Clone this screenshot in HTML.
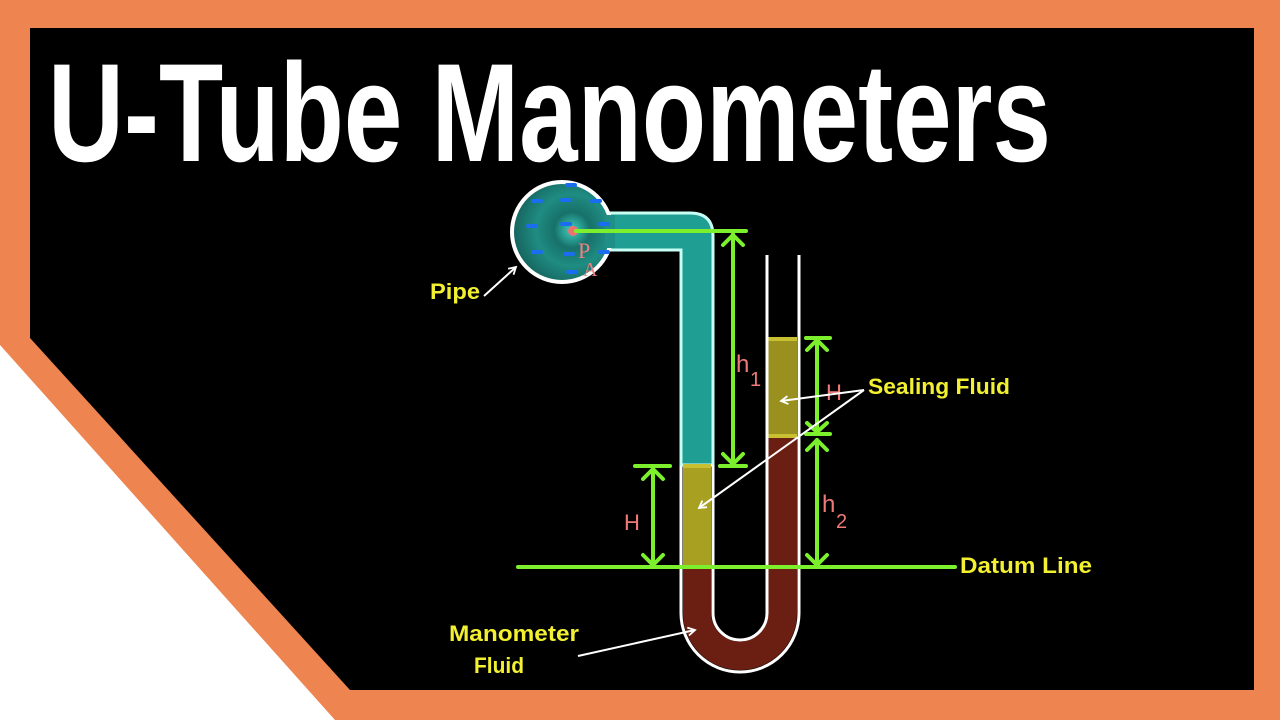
<!DOCTYPE html>
<html><head><meta charset="utf-8"><style>
html,body{margin:0;padding:0;background:#ee8550;width:1280px;height:720px;overflow:hidden}
svg{display:block}
</style></head><body>
<svg width="1280" height="720" viewBox="0 0 1280 720" xmlns="http://www.w3.org/2000/svg">
<defs>
<radialGradient id="pg" cx="0.6" cy="0.48" r="0.6"><stop offset="0" stop-color="#3fd0c0"/><stop offset="0.3" stop-color="#17716a"/><stop offset="0.6" stop-color="#1f8c82"/><stop offset="1" stop-color="#15625c"/></radialGradient>
<marker id="ah" markerWidth="10" markerHeight="10" refX="8" refY="5" orient="auto" markerUnits="userSpaceOnUse"><path d="M1,1 L8,5 L1,9" fill="none" stroke="#fff" stroke-width="1.8"/></marker>
</defs>
<rect width="1280" height="720" fill="#ee8550"/>
<polygon points="0,345 0,720 335,720" fill="#ffffff"/>
<polygon points="30,28 1254,28 1254,690 350,690 30,338" fill="#000"/>
<text x="48" y="161" fill="#fff" font-family="Liberation Sans Narrow, Liberation Sans, sans-serif" font-weight="bold" font-size="140" textLength="1003" lengthAdjust="spacingAndGlyphs">U-Tube Manometers</text>

<path d="M600,213 H690 Q713,213 713,236 V465 H681 V250 H600 Z" fill="#1f9e94" stroke="#c8fff5" stroke-width="3"/>
<rect x="683" y="465" width="28" height="102" fill="#a8a020"/>
<line x1="683" y1="466" x2="711" y2="466" stroke="#c8c030" stroke-width="4"/>
<line x1="683" y1="567" x2="711" y2="567" stroke="#c8c030" stroke-width="4"/>
<path d="M683,567 V613 A57,57 0 0 0 797,613 V437 H768 V613 A28,28 0 0 1 711,613 V567 Z" fill="#6a1f12"/>
<rect x="768" y="338" width="29" height="99" fill="#9a9020"/>
<line x1="768" y1="339" x2="797" y2="339" stroke="#c8c030" stroke-width="4"/>
<line x1="768" y1="436" x2="797" y2="436" stroke="#c8c030" stroke-width="4"/>
<path d="M681,465 V613 A59,59 0 0 0 799,613 V255" fill="none" stroke="#fff" stroke-width="3"/>
<path d="M713,465 V613 A27,27 0 0 0 767,613 V255" fill="none" stroke="#fff" stroke-width="3"/>
<line x1="681" y1="250" x2="681" y2="466" stroke="#c8fff5" stroke-width="3"/>
<circle cx="562" cy="232" r="50" fill="url(#pg)" stroke="#fff" stroke-width="4"/>
<rect x="605" y="215" width="10" height="33" fill="#1f9088"/>
<g fill="#1a6cf0">
<rect x="565" y="183" width="12" height="4" rx="2"/><rect x="531" y="199" width="12" height="4" rx="2"/><rect x="560" y="198" width="12" height="4" rx="2"/><rect x="590" y="199" width="12" height="4" rx="2"/>
<rect x="526" y="224" width="12" height="4" rx="2"/><rect x="560" y="222" width="12" height="4" rx="2"/><rect x="598" y="222" width="12" height="4" rx="2"/>
<rect x="531" y="250" width="12" height="4" rx="2"/><rect x="563" y="252" width="12" height="4" rx="2"/><rect x="598" y="250" width="12" height="4" rx="2"/><rect x="566" y="270" width="12" height="4" rx="2"/>
</g>
<circle cx="573" cy="231" r="5" fill="#f07070"/>
<text x="578" y="258" fill="#f08080" font-family="Liberation Serif, serif" font-size="22">P</text>
<text x="583" y="276" fill="#f08080" font-family="Liberation Serif, serif" font-size="20">A</text>

<g stroke="#7cf02c" stroke-width="4" fill="none" stroke-linecap="round" stroke-linejoin="round">
<line x1="576" y1="231" x2="746" y2="231"/>
<line x1="733" y1="234" x2="733" y2="464"/>
<path d="M723,245 L733,235 L743,245"/><path d="M723,454 L733,464 L743,454"/>
<line x1="720" y1="466" x2="746" y2="466"/>
<line x1="635" y1="466" x2="670" y2="466"/>
<line x1="653" y1="468" x2="653" y2="565"/>
<path d="M643,479 L653,469 L663,479"/><path d="M643,555 L653,565 L663,555"/>
<line x1="518" y1="567" x2="955" y2="567"/>
<line x1="806" y1="338" x2="830" y2="338"/>
<line x1="817" y1="340" x2="817" y2="430"/>
<path d="M807,350 L817,340 L827,350"/><path d="M807,423 L817,432 L827,423"/>
<line x1="806" y1="434" x2="830" y2="434"/>
<line x1="817" y1="440" x2="817" y2="565"/>
<path d="M807,450 L817,440 L827,450"/><path d="M807,555 L817,565 L827,555"/>
</g>

<g fill="#f07a78" font-family="Liberation Sans, sans-serif">
<text x="736" y="372" font-size="24">h</text><text x="750" y="386" font-size="20">1</text>
<text x="624" y="530" font-size="22">H</text>
<text x="826" y="400" font-size="22">H</text>
<text x="822" y="512" font-size="24">h</text><text x="836" y="528" font-size="20">2</text>
</g>

<g fill="#f2f030" font-family="Liberation Sans Narrow, Liberation Sans, sans-serif" font-weight="bold" font-size="22">
<text x="430" y="299" textLength="50" lengthAdjust="spacingAndGlyphs">Pipe</text>
<text x="868" y="394" textLength="142" lengthAdjust="spacingAndGlyphs">Sealing Fluid</text>
<text x="960" y="573" textLength="132" lengthAdjust="spacingAndGlyphs">Datum Line</text>
<text x="449" y="641" textLength="130" lengthAdjust="spacingAndGlyphs">Manometer</text>
<text x="474" y="673" textLength="50" lengthAdjust="spacingAndGlyphs">Fluid</text>
</g>

<g stroke="#fff" stroke-width="2" fill="none">
<line x1="484" y1="296" x2="516" y2="267" marker-end="url(#ah)"/>
<line x1="864" y1="390" x2="781" y2="401" marker-end="url(#ah)"/>
<line x1="864" y1="390" x2="699" y2="508" marker-end="url(#ah)"/>
<line x1="578" y1="656" x2="695" y2="630" marker-end="url(#ah)"/>
</g>
</svg>
</body></html>
